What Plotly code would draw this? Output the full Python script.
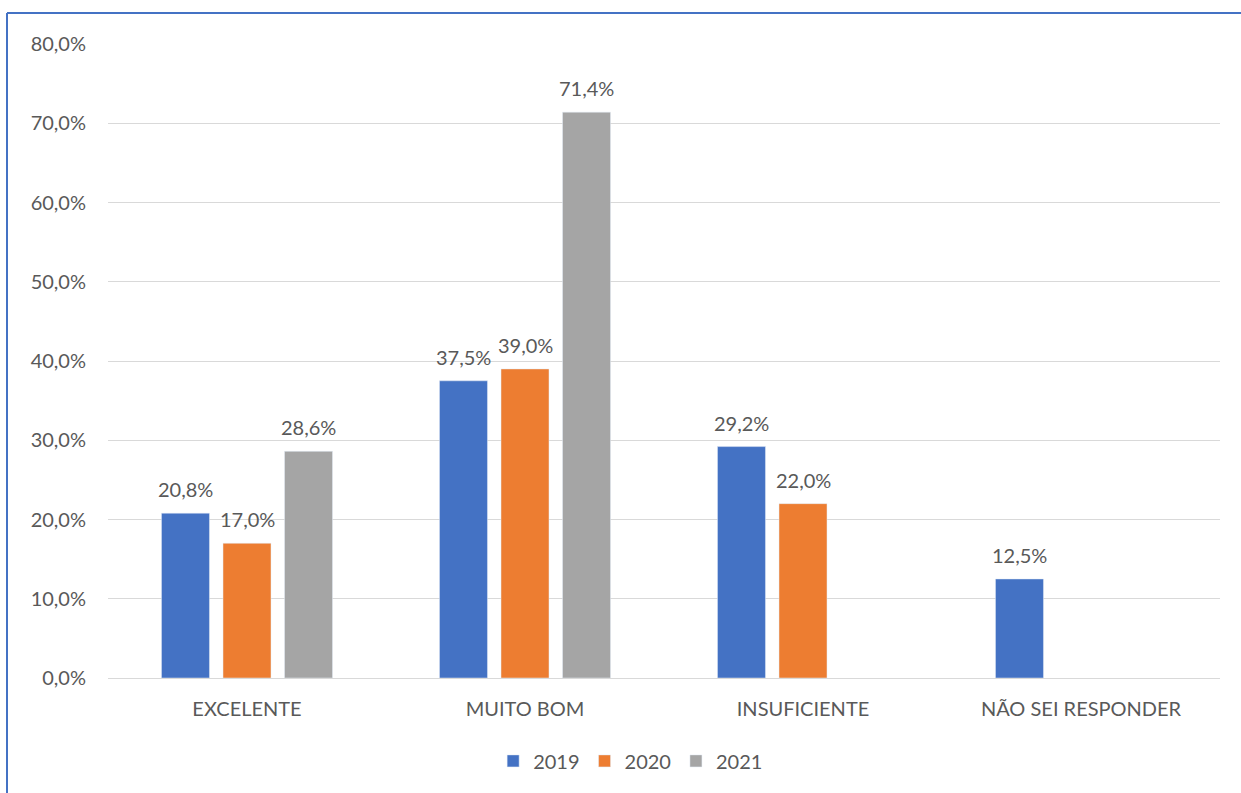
import plotly.graph_objects as go

categories = ["EXCELENTE", "MUITO BOM", "INSUFICIENTE", "NÃO SEI RESPONDER"]
v2019 = [20.8, 37.5, 29.2, 12.5]
v2020 = [17.0, 39.0, 22.0, None]
v2021 = [28.6, 71.4, None, None]
series = [("2019", v2019, "#4472C4"), ("2020", v2020, "#ED7D31"), ("2021", v2021, "#A5A5A5")]

FONT = "Lato"
TXT = "#595959"
FS = 20

W, H = 1241, 793
l, r, t, b = 108, 21, 44, 115
pw, ph = W - l - r, H - t - b
slot = 61.5

fig = go.Figure()
annotations = []
for i, (name, vals, col) in enumerate(series):
    fig.add_trace(go.Bar(x=categories, y=vals, name=name, marker_color=col))
    for c, v in zip(categories, vals):
        if v is None:
            continue
        annotations.append(dict(
            x=c, y=v, xref="x", yref="y", text=f"{v:.1f}%".replace(".", ","),
            showarrow=False, yanchor="bottom", xanchor="center",
            xshift=(i - 1) * slot, yshift=10,
            font=dict(family=FONT, size=FS, color=TXT),
        ))

fig.update_layout(
    width=W, height=H,
    margin=dict(l=l, r=r, t=t, b=b),
    paper_bgcolor="white", plot_bgcolor="white",
    barmode="group", bargap=0.336, bargroupgap=0.22,
    separators=",.",
    font=dict(family=FONT, size=FS, color=TXT),
    annotations=annotations,
    legend=dict(orientation="h", x=0.47, xanchor="center", y=-0.1, yanchor="top",
                font=dict(family=FONT, size=FS, color=TXT), itemwidth=30, traceorder="normal"),
    yaxis=dict(range=[0, 80], dtick=10, tickformat=".1f", ticksuffix="%",
               showgrid=True, gridcolor="#D9D9D9", gridwidth=1,
               zeroline=True, zerolinecolor="#D9D9D9", zerolinewidth=1,
               showline=False, ticks="", ticklabelstandoff=21,
               tickfont=dict(family=FONT, size=FS, color=TXT)),
    xaxis=dict(showline=False, ticks="", ticklabelstandoff=17,
               tickfont=dict(family=FONT, size=FS, color=TXT)),
    shapes=[
        dict(type="line", xref="paper", yref="paper",
             x0=(7 - l) / pw, x1=(W + 5 - l) / pw,
             y0=(H - b - 13) / ph, y1=(H - b - 13) / ph,
             line=dict(color="#4472C4", width=2)),
        dict(type="line", xref="paper", yref="paper",
             x0=(7 - l) / pw, x1=(7 - l) / pw,
             y0=(H - b - 13) / ph, y1=-(b + 5) / ph,
             line=dict(color="#4472C4", width=2)),
    ],
)

fig.write_html("out.html", config={"displayModeBar": False},
               post_script="document.body.style.margin='0';document.body.style.overflow='hidden';")
